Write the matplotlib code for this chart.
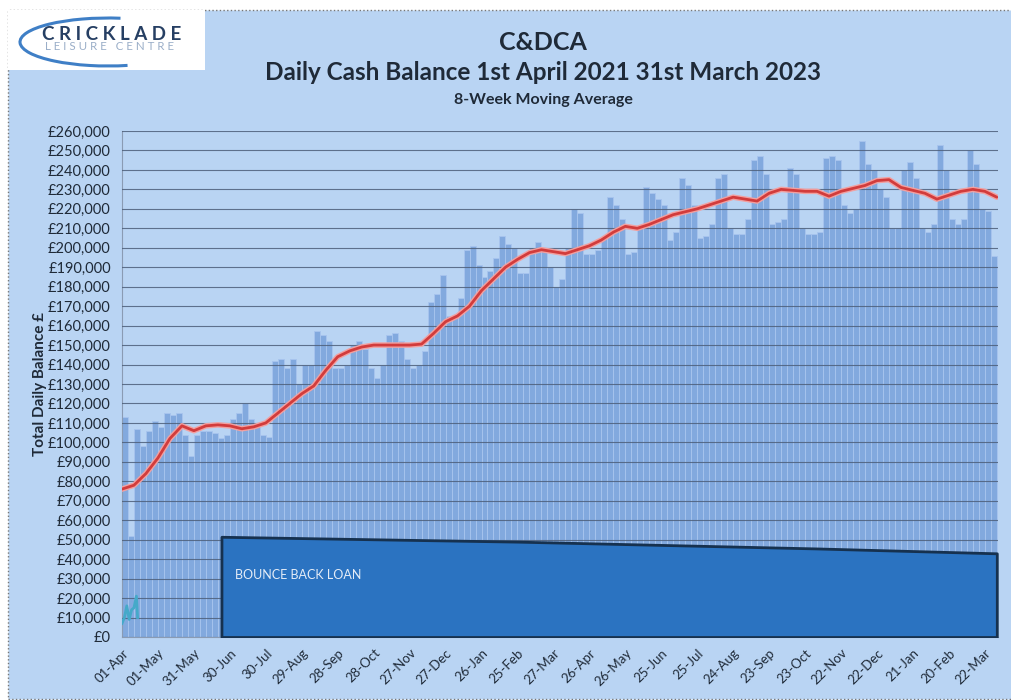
import matplotlib
matplotlib.use('Agg')
import matplotlib.pyplot as plt
from matplotlib.patches import Rectangle, Arc
from matplotlib.ticker import FuncFormatter, MultipleLocator
import numpy as np

# daily balance in 5-day steps (in £000)
BIN_DAYS = 5
balance_k = [
    113, 52, 107, 98, 106, 111, 108, 115, 114, 115,
    104, 93, 104, 106, 106, 105, 102, 104, 112, 115,
    120, 112, 110, 104, 103, 142, 143, 138, 143, 130,
    140, 140, 157, 155, 152, 138, 138, 140, 150, 152,
    148, 138, 133, 140, 155, 156, 152, 143, 138, 140,
    147, 172, 176, 186, 165, 165, 174, 199, 201, 191,
    185, 188, 195, 206, 202, 200, 187, 187, 200, 203,
    199, 190, 180, 184, 200, 220, 218, 197, 197, 199,
    205, 226, 222, 215, 197, 198, 210, 231, 228, 225,
    222, 204, 208, 236, 232, 222, 205, 206, 212, 236,
    238, 210, 207, 207, 215, 245, 247, 238, 212, 213,
    215, 241, 238, 210, 207, 207, 208, 246, 247, 245,
    222, 218, 220, 255, 243, 240, 230, 226, 210, 210,
    240, 244, 236, 210, 208, 212, 253, 240, 215, 212,
    215, 250, 243, 220, 219, 196,
]

# 8-week moving average, every 10 days (in £000)
ma_days = list(range(0, 731, 10))
ma_k = [
    76, 78, 84, 92, 102, 108.5, 106, 108.5, 109, 108.5,
    107, 108, 110, 115, 120, 125, 129, 137, 144, 147,
    149, 150, 150, 150, 150, 150.5, 156, 162, 165, 170,
    178, 184, 190, 194, 197.5, 199, 198, 197, 199, 201,
    204, 208, 211, 210, 212, 214.5, 217, 218.5, 220, 222,
    224, 226, 225, 224, 228, 230, 229.5, 229, 229, 226.5,
    229, 230.5, 232, 234.5, 235, 231, 229.5, 228, 225, 227,
    229, 230, 229, 226,
]

# bounce back loan outstanding (in £000)
loan_days = [83, 330, 580, 730]
loan_k = [51.5, 49, 45.5, 43]

# second account, first fortnight only (in £000)
teal_days = [0, 2, 4, 6, 8, 10, 12, 13]
teal_k = [7, 10, 16, 9, 14, 15, 21, 10]

tick_days = list(range(0, 721, 30))
tick_labels = ['01-Apr', '01-May', '31-May', '30-Jun', '30-Jul', '29-Aug', '28-Sep',
               '28-Oct', '27-Nov', '27-Dec', '26-Jan', '25-Feb', '27-Mar', '26-Apr',
               '26-May', '25-Jun', '25-Jul', '24-Aug', '23-Sep', '23-Oct', '22-Nov',
               '22-Dec', '21-Jan', '20-Feb', '22-Mar']

BG = '#b9d4f3'
BAR = '#82a9de'
TXT = '#1f2a38'

plt.rcParams['font.family'] = ['Lato', 'DejaVu Sans']

fig = plt.figure(figsize=(10.12, 7.0), dpi=100)
fig.patch.set_facecolor('white')

def fx(x):
    return x / 1012

def fy(y):
    return 1 - y / 700

# chart background panel with dotted border
fig.patches.append(Rectangle((fx(8), fy(699)), fx(1004), 689 / 700,
                             transform=fig.transFigure, facecolor=BG,
                             edgecolor='#777777', linestyle=':', lw=1, zorder=-10))

# logo
fig.patches.append(Rectangle((fx(8), fy(70)), fx(197), 60 / 700,
                             transform=fig.transFigure, facecolor='white',
                             edgecolor='none', zorder=-5))
fig.patches.append(Arc((fx(108), fy(42)), fx(176), 48 / 700, theta1=70, theta2=300,
                       transform=fig.transFigure, color='#3f7fc6', lw=2.2, zorder=-4))
fig.text(fx(112), fy(34), 'C R I C K L A D E', ha='center', va='center',
         fontsize=13.5, fontweight='bold', color='#263f63')
fig.text(fx(110), fy(47), 'L E I S U R E   C E N T R E', ha='center', va='center',
         fontsize=8.3, color='#9aaec8')

# titles
fig.text(fx(543), fy(42), 'C&DCA', ha='center', va='center',
         fontsize=18, fontweight='bold', color=TXT)
fig.text(fx(543), fy(73), 'Daily Cash Balance 1st April 2021 31st March 2023',
         ha='center', va='center', fontsize=17.5, fontweight='bold', color=TXT)
fig.text(fx(543), fy(100), '8-Week Moving Average', ha='center', va='center',
         fontsize=11.5, fontweight='bold', color=TXT)

ax = fig.add_axes([fx(122), fy(637), fx(998 - 122), (637 - 131) / 700])
ax.set_facecolor(BG)

bar_x = np.arange(len(balance_k)) * BIN_DAYS
ax.bar(bar_x, np.array(balance_k) * 1000, width=BIN_DAYS, align='edge',
       color=BAR, edgecolor='#a8c5ee', linewidth=0.6, zorder=1)

ax.plot(teal_days, np.array(teal_k) * 1000, color='#45a9c9', lw=2, zorder=3)

ax.fill_between(loan_days, np.array(loan_k) * 1000, 0, facecolor='#2b73c1',
                edgecolor='#16314f', lw=2, zorder=3)
ax.text(94, 32000, 'BOUNCE BACK LOAN', fontsize=9, color='#e4ecf7',
        ha='left', va='center', zorder=4)

ax.plot(ma_days, np.array(ma_k) * 1000, color='#f2a0a0', lw=4, zorder=4,
        solid_capstyle='round')
ax.plot(ma_days, np.array(ma_k) * 1000, color='#d23c3c', lw=2, zorder=5,
        solid_capstyle='round')

ax.set_xlim(0, 731)
ax.set_ylim(0, 260000)
ax.yaxis.set_major_locator(MultipleLocator(10000))
ax.yaxis.set_major_formatter(FuncFormatter(lambda v, p: f'£{v:,.0f}'))
ax.set_xticks(tick_days)
ax.set_xticklabels(tick_labels, rotation=45, ha='right', rotation_mode='anchor')
ax.tick_params(axis='y', length=0, labelsize=10.5, labelcolor=TXT, pad=8)
ax.tick_params(axis='x', length=0, labelsize=9.5, labelcolor=TXT, pad=7)
ax.grid(axis='y', color='#4d5f7a', lw=0.8, alpha=0.85)
ax.set_axisbelow(False)
for g in ax.get_ygridlines():
    g.set_zorder(2)
for s in ['top', 'right']:
    ax.spines[s].set_visible(False)
for s in ['left', 'bottom']:
    ax.spines[s].set_color('#8a9bb3')
    ax.spines[s].set_linewidth(0.8)

ax.set_ylabel('Total Daily Balance £', fontsize=11, fontweight='bold', color=TXT,
              labelpad=1)

fig.savefig('out.png', dpi=100, facecolor=fig.get_facecolor())
